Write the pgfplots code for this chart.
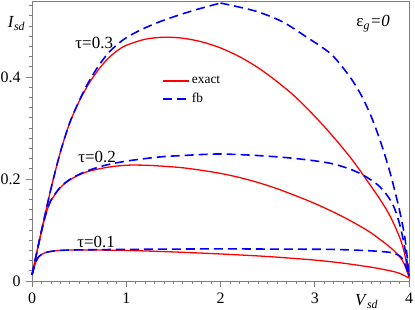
\documentclass[border=0pt]{standalone}
\usepackage{pgfplots}
\pgfplotsset{compat=1.18}
\usepackage{fontspec}
\setmainfont{Liberation Serif}
\begin{document}
\fontsize{16}{18}\selectfont
\begin{tikzpicture}
\useasboundingbox (-32bp,-29bp) rectangle (383bp,281bp);
\begin{axis}[
  scale only axis, width=377bp, height=280bp,
  at={(0,0)}, anchor=south west,
  xmin=0, xmax=4, ymin=0, ymax=0.549,
  axis line style={draw=gray, line width=0.8pt},
  xtick={0,1,2,3,4}, ytick={0,0.2,0.4},
  minor xtick={0.1,0.2,0.3,0.4,0.5,0.6,0.7,0.8,0.9,1.1,1.2,1.3,1.4,1.5,1.6,1.7,1.8,1.9,2.1,2.2,2.3,2.4,2.5,2.6,2.7,2.8,2.9,3.1,3.2,3.3,3.4,3.5,3.6,3.7,3.8,3.9},
  minor ytick={0.02,0.04,0.06,0.08,0.1,0.12,0.14,0.16,0.18,0.22,0.24,0.26,0.28,0.3,0.32,0.34,0.36,0.38,0.42,0.44,0.46,0.48,0.5,0.52,0.54},
  tick align=outside, xtick pos=bottom, ytick pos=left,
  major tick length=6bp, minor tick length=3bp,
  tick style={gray, line width=0.7pt},
  /pgf/number format/assume math mode=true,
  ticklabel style={font=\fontsize{16}{18}\selectfont},
  clip=false,
  legend style={draw=none, fill=none, at={(axis cs:1.38,0.406)}, anchor=north west,
    font=\fontsize{13.5}{15}\selectfont, inner sep=0pt, row sep=3bp},
  legend cell align=left,
  legend image code/.code={\draw[#1] (0bp,0bp) -- (26bp,0bp);},
]
% exact tau=0.3
\addplot[red, line width=1.3pt, smooth] coordinates {
(0,0.012) (0.1,0.098) (0.2,0.18) (0.3,0.252) (0.4,0.31) (0.5,0.352) (0.6,0.386) (0.7,0.413) (0.8,0.435) (0.9,0.451) (1.0,0.462) (1.2,0.474) (1.4,0.478) (1.6,0.476) (1.8,0.469) (2.0,0.457) (2.2,0.44) (2.4,0.418) (2.6,0.391) (2.8,0.36) (3.0,0.323) (3.2,0.282) (3.4,0.237) (3.6,0.185) (3.7,0.158) (3.8,0.127) (3.9,0.086) (3.95,0.056) (4.0,0.008)};
\addlegendentry{exact}
% fb tau=0.3
\addplot[blue, line width=1.6pt, dash pattern=on 9bp off 5bp, smooth] coordinates {
(0,0.012) (0.1,0.098) (0.2,0.18) (0.3,0.252) (0.4,0.31) (0.5,0.353) (0.6,0.39) (0.7,0.42) (0.8,0.445) (0.9,0.463) (1.0,0.477) (1.15,0.492) (1.35,0.508) (1.6,0.524) (1.8,0.535) (2.0,0.545)};
\addlegendentry{fb}
\addplot[blue, line width=1.6pt, dash pattern=on 9bp off 5bp, smooth, forget plot] coordinates {
(2.0,0.545) (2.2,0.537) (2.41,0.527) (2.66,0.508) (2.9,0.48) (3.16,0.447) (3.3,0.418) (3.4,0.393) (3.5,0.362) (3.6,0.322) (3.7,0.272) (3.8,0.212) (3.9,0.138) (3.96,0.08) (4.0,0.01)};
% exact tau=0.2
\addplot[red, line width=1.3pt, smooth] coordinates {
(0,0.012) (0.05,0.055) (0.1,0.097) (0.15,0.133) (0.2,0.157) (0.3,0.183) (0.4,0.198) (0.5,0.208) (0.6,0.215) (0.8,0.223) (1.0,0.227) (1.2,0.227) (1.4,0.225) (1.6,0.222) (1.8,0.217) (2.0,0.211) (2.2,0.203) (2.4,0.193) (2.6,0.181) (2.8,0.167) (3.0,0.152) (3.2,0.135) (3.4,0.116) (3.6,0.094) (3.8,0.066) (3.9,0.048) (3.95,0.033) (4.0,0.008)};
% exact tau=0.1
\addplot[red, line width=1.3pt, smooth] coordinates {
(0,0.012) (0.02,0.025) (0.04,0.037) (0.06,0.045) (0.1,0.052) (0.15,0.056) (0.2,0.058) (0.3,0.06) (0.5,0.061) (0.8,0.0605) (1.0,0.06) (1.5,0.057) (2.0,0.053) (2.5,0.048) (3.0,0.041) (3.3,0.035) (3.6,0.027) (3.8,0.02) (3.9,0.015) (4.0,0.006)};
% fb tau=0.2
\addplot[blue, line width=1.6pt, dash pattern=on 9bp off 5bp, smooth] coordinates {
(0,0.012) (0.05,0.055) (0.1,0.097) (0.15,0.133) (0.2,0.158) (0.3,0.184) (0.4,0.199) (0.5,0.209) (0.6,0.217) (0.8,0.228) (1.0,0.235) (1.2,0.24) (1.4,0.244) (1.6,0.246) (1.8,0.248) (2.0,0.249) (2.3,0.247) (2.63,0.243) (2.9,0.238) (3.16,0.231) (3.35,0.221) (3.51,0.208) (3.69,0.185) (3.82,0.153) (3.9,0.112) (3.96,0.06) (4.0,0.01)};
% fb tau=0.1
\addplot[blue, line width=1.6pt, dash pattern=on 9bp off 5bp, smooth] coordinates {
(0,0.012) (0.02,0.025) (0.04,0.037) (0.06,0.045) (0.1,0.052) (0.15,0.056) (0.2,0.058) (0.3,0.06) (0.5,0.061) (1.0,0.062) (1.5,0.0625) (2.0,0.063) (2.6,0.0625) (3.16,0.062) (3.5,0.06) (3.69,0.058) (3.83,0.055) (3.92,0.046) (3.97,0.027) (4.0,0.008)};
\node[font=\fontsize{17}{19}\selectfont] at (axis cs:0.66,0.467) {τ=0.3};
\node[font=\fontsize{17}{19}\selectfont] at (axis cs:0.69,0.243) {τ=0.2};
\node[font=\fontsize{17}{19}\selectfont] at (axis cs:0.68,0.076) {τ=0.1};
\node[font=\fontsize{17}{19}\selectfont] at (axis cs:3.62,0.505) {ε\textsubscript{\textit{g}}\textit{=0}};
\node[font=\fontsize{17}{19}\selectfont] at (axis cs:-0.165,0.505) {\textit{I}\textsubscript{\textit{sd}}};
\node[font=\fontsize{17}{19}\selectfont] at (axis cs:3.55,-0.04) {\textit{V}\textsubscript{\textit{sd}}};
\end{axis}
\end{tikzpicture}
\end{document}
